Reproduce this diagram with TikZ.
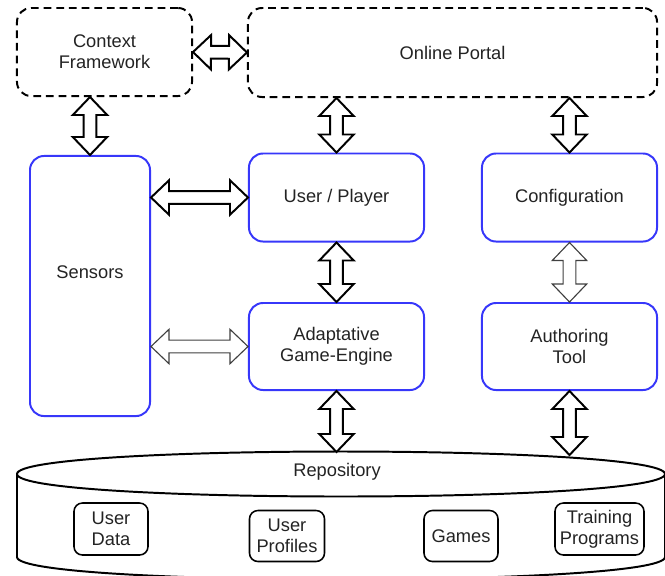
\documentclass[tikz,border=0pt]{standalone}
\usepackage{fontspec}
\setmainfont{Liberation Sans}
\usepackage{tikz}
\usetikzlibrary{positioning, calc}
\definecolor{boxblue}{RGB}{55,55,250}
\definecolor{textgray}{RGB}{35,35,35}

% block arrow sizes
\newcommand{\arhead}{0.45cm}
\newcommand{\arhw}{0.43cm}
\newcommand{\arsw}{0.16cm}
% hollow double-headed block arrow between two named points
\newcommand{\blockarrow}[3][]{%
  \draw[blockline,#1] (#2)
    -- ($(#2)!\arhead!(#3)!\arhw!90:(#3)$)
    -- ($(#2)!\arhead!(#3)!\arsw!90:(#3)$)
    -- ($(#3)!\arhead!(#2)!\arsw!-90:(#2)$)
    -- ($(#3)!\arhead!(#2)!\arhw!-90:(#2)$)
    -- (#3)
    -- ($(#3)!\arhead!(#2)!\arhw!90:(#2)$)
    -- ($(#3)!\arhead!(#2)!\arsw!90:(#2)$)
    -- ($(#2)!\arhead!(#3)!\arsw!-90:(#3)$)
    -- ($(#2)!\arhead!(#3)!\arhw!-90:(#3)$)
    -- cycle;}

\begin{document}
\begin{tikzpicture}[
    x=0.025cm, y=-0.025cm,
    every node/.style={font=\fontsize{13}{15}\selectfont, text=textgray, align=center},
    dashbox/.style={rectangle, rounded corners=10pt, draw=black, line width=1.4pt, dash pattern=on 5.5pt off 3.5pt},
    bluebox/.style={rectangle, rounded corners=10pt, draw=boxblue, line width=1.4pt, minimum width=4.375cm, minimum height=2.2cm},
    store/.style={rectangle, rounded corners=6pt, draw=black, line width=1.1pt, inner sep=1pt, font=\fontsize{13}{15}\selectfont},
    blockline/.style={draw=black, fill=white, line width=1.4pt, line join=miter},
    thinline/.style={line width=0.8pt, draw=black!75}
  ]
  \clip (0,0) rectangle (665,575);

  % Top row
  \node[dashbox, minimum width=4.375cm, minimum height=2.2cm] (context) at (104.5,52) {Context\\Framework};
  \node[dashbox, minimum width=10.225cm, minimum height=2.225cm] (portal) at (452.5,52.5) {Online Portal};

  % Middle
  \node[bluebox, minimum width=3cm, minimum height=6.5cm, label={[yshift=0.35cm]center:Sensors}] (sensors) at (90,286) {};
  \node[bluebox] (player) at (336.5,197.5) {User / Player};
  \node[bluebox] (config) at (569.5,197.5) {Configuration};
  \node[bluebox, minimum height=2.175cm] (engine) at (336.5,346.5) {Adaptative\\Game-Engine};
  \node[bluebox, minimum height=2.175cm] (authoring) at (569.5,346.5) {Authoring\\Tool};

  % Repository
  \draw[line width=1.4pt] (17,474) .. controls (17,444) and (665,444) .. (665,474);
  \draw[line width=1.4pt] (17,474) .. controls (17,504) and (665,504) .. (665,474);
  \draw[line width=1.4pt] (17,474) -- (17,557) .. controls (17,587) and (665,587) .. (665,557) -- (665,474);
  \node (repo) at (337,472) {Repository};
  \coordinate (repoL) at (336.5,452);
  \coordinate (repoR) at (569.5,455);

  \node[store, minimum width=1.85cm, minimum height=1.3cm] (userdata) at (111,529) {User\\Data};
  \node[store, minimum width=1.875cm, minimum height=1.275cm] (profiles) at (287,536) {User\\Profiles};
  \node[store, minimum width=1.85cm, minimum height=1.275cm] (games) at (461,536) {Games};
  \node[store, minimum width=2.225cm, minimum height=1.3cm] (training) at (599.5,529) {Training\\Programs};

  % Arrows
  \coordinate (contextS) at (sensors.north |- context.south);
  \coordinate (portalL) at (player.north |- portal.south);
  \coordinate (portalR) at (config.north |- portal.south);
  \coordinate (sensorsU) at (sensors.east |- player.west);
  \coordinate (sensorsE) at (sensors.east |- engine.west);

  \blockarrow{context.east}{portal.west}
  \blockarrow{contextS}{sensors.north}
  \blockarrow{portalL}{player.north}
  \blockarrow{portalR}{config.north}
  \blockarrow{sensorsU}{player.west}
  \blockarrow[thinline]{sensorsE}{engine.west}
  \blockarrow{player.south}{engine.north}
  \blockarrow[thinline]{config.south}{authoring.north}
  \blockarrow{engine.south}{repoL}
  \blockarrow{authoring.south}{repoR}

\end{tikzpicture}
\end{document}
